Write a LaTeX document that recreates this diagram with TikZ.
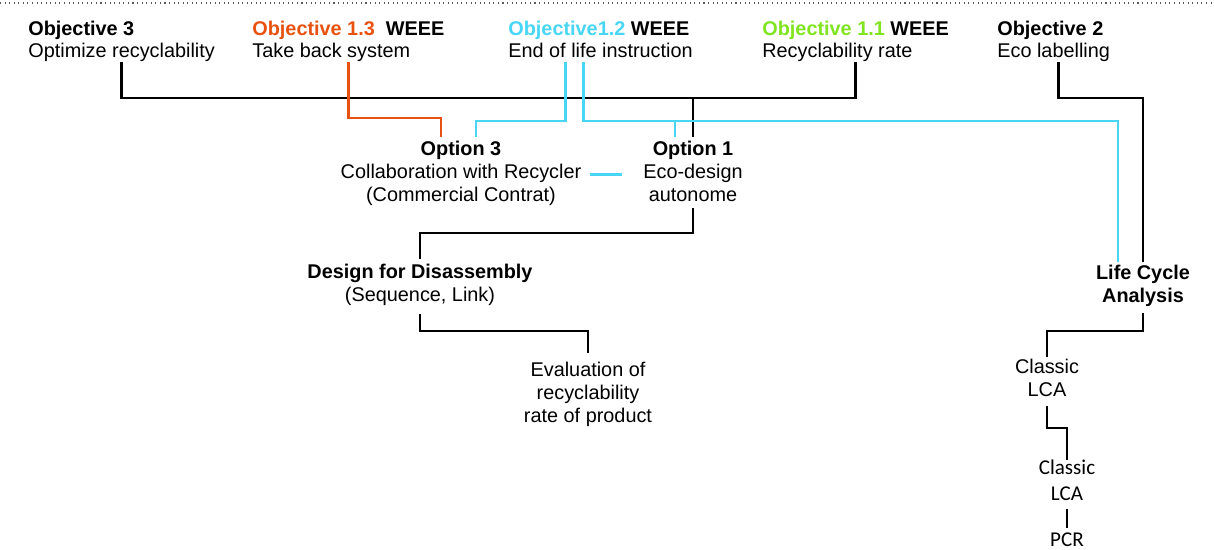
\documentclass[tikz,border=0pt]{standalone}
\usepackage{fontspec}
\setmainfont{Liberation Sans}
\newfontfamily\carlito{Carlito}
\usetikzlibrary{calc}

\definecolor{weeeorange}{RGB}{232,82,16}
\definecolor{weeecyan}{RGB}{72,214,244}
\definecolor{weeegreen}{RGB}{128,228,32}

\begin{document}
\begin{tikzpicture}[
    x=0.02cm, y=-0.02cm,
    font=\fontsize{11.3}{13}\selectfont,
    every node/.style={inner xsep=2pt, inner ysep=0pt,
        execute at begin node=\strut, execute at end node=\strut},
    goal/.style={align=left, anchor=west},
    option/.style={align=center},
    lca/.style={align=center, font=\carlito\fontsize{12}{14.9}\selectfont},
    link/.style={line width=1.4pt},
    blk/.style={link, black},
    cyanlink/.style={link, weeecyan},
    orangelink/.style={link, weeeorange}
]
\useasboundingbox (0,0) rectangle (1214,549);
\draw[dotted, gray!70!black, line width=0.6pt] (0,3) -- (1214,3);

\node[goal] (obj3) at (24.5,42.8) {\textbf{Objective 3}\\Optimize recyclability};
\node[goal] (obj13) at (248.5,42.8) {\textbf{\textcolor{weeeorange}{Objective 1.3}\ \ WEEE}\\Take back system};
\node[goal] (obj12) at (504.5,42.8) {\textbf{\textcolor{weeecyan}{Objective1.2} WEEE}\\End of life instruction};
\node[goal] (obj11) at (758.5,42.8) {\textbf{\textcolor{weeegreen}{Objective 1.1} WEEE}\\Recyclability rate};
\node[goal] (obj2) at (993.5,42.8) {\textbf{Objective 2}\\Eco labelling};

\node[option] (opt3) at (461,174.4) {\textbf{Option 3}\\Collaboration with Recycler\\(Commercial Contrat)};
\node[option] (opt1) at (693,174.4) {\textbf{Option 1}\\Eco-design\\autonome};
\node[option, inner ysep=3pt] (dfd) at (420,286.4) {\textbf{Design for Disassembly}\\(Sequence, Link)};
\node[option, inner ysep=5pt] (eval) at (588,395.8) {Evaluation of\\recyclability\\rate of product};
\node[option, inner ysep=2pt] (lcanode) at (1143,287.4) {\textbf{Life Cycle}\\\textbf{Analysis}};
\node[option, inner ysep=1pt] (classic) at (1047,381.4) {Classic\\LCA};
\node[lca] (classicpcr) at (1067,484.5) {Classic\\LCA};
\node[lca] (pcr) at (1067,541) {PCR};

\coordinate (gtop) at (0,62);
\coordinate (bar) at (0,98);
\coordinate (ojoin) at (0,118);
\coordinate (cjoin) at (0,121);
\coordinate (otop) at (0,137);
\coordinate (dropA) at (0,233);
\coordinate (dropB) at (0,331);
\coordinate (dropC) at (0,428);
\coordinate (opt3or) at ($(opt3.north)+(-20,0)$);
\coordinate (opt3cy) at ($(opt3.north)+(15,0)$);
\coordinate (opt1cy) at ($(opt1.north)+(-18,0)$);
\coordinate (lcacy) at ($(lcanode.north)+(-25,0)$);
\coordinate (eolL) at ($(obj12.south)+(-35,0)$);
\coordinate (eolR) at ($(obj12.south)+(-17,0)$);
\coordinate (ecoout) at ($(obj2.south)+(5,0)$);

\draw[blk] (obj3.south |- gtop) |- (obj11.south |- bar) -- (obj11.south |- gtop);
\draw[blk] (opt1.north |- bar) -- (opt1.north |- otop);
\draw[orangelink] (obj13.south |- gtop) |- (opt3or |- ojoin) -- (opt3or |- otop);
\draw[cyanlink] (eolL |- gtop) |- (opt3cy |- cjoin) -- (opt3cy |- otop);
\draw[cyanlink] (eolR |- gtop) |- (lcacy |- cjoin) -- (lcacy);
\draw[cyanlink] (opt1cy |- cjoin) -- (opt1cy |- otop);
\draw[cyanlink] ($(opt3.east)+(5,0)$) -- ($(opt1.west)+(-17,0)$);
\draw[blk] (ecoout |- gtop) |- (lcanode.north |- bar) -- (lcanode.north);

\draw[blk] (opt1.south) |- (dfd.north |- dropA) -- (dfd.north);
\draw[blk] (dfd.south) |- (eval.north |- dropB) -- (eval.north);
\draw[blk] (lcanode.south) |- (classic.north |- dropB) -- (classic.north);
\draw[blk] (classic.south) |- (classicpcr.north |- dropC) -- (classicpcr.north);
\draw[blk] (classicpcr.south) -- (pcr.north);
\end{tikzpicture}
\end{document}
